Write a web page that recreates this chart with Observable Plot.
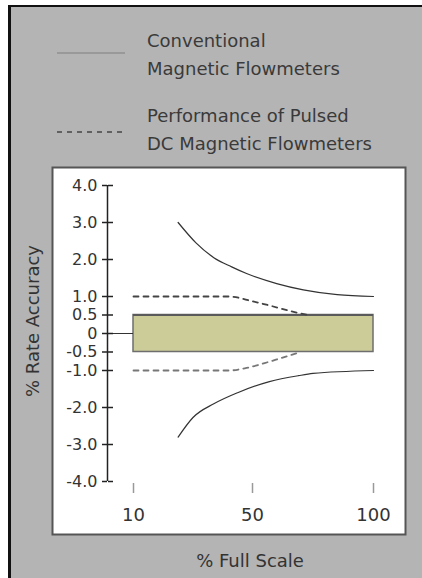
<!DOCTYPE html>
<html>
<head>
<meta charset="utf-8">
<script src="https://cdn.jsdelivr.net/npm/d3@7"></script>
<script src="https://cdn.jsdelivr.net/npm/@observablehq/plot@0.6"></script>
<style>
  html, body { margin: 0; padding: 0; background: #fff; }
  #wrap { position: relative; width: 422px; height: 578px; overflow: hidden; font-family: "DejaVu Sans", sans-serif; }
  #panel { position: absolute; left: 8px; top: 5px; width: 414px; height: 573px; background: #b4b4b4; border-top: 2px solid #111; border-left: 3px solid #111; box-sizing: border-box; }
  #chart { position: absolute; left: 0; top: 0; }
  .leg { position: absolute; left: 147px; font-size: 18px; line-height: 28px; color: #3a3a3a; white-space: nowrap; }
  .sw { position: absolute; left: 57px; }
</style>
</head>
<body>
<div id="wrap">
  <div id="panel"></div>
  <div id="chart"></div>
  <svg class="sw" style="top:48px" width="68" height="10"><line x1="0" x2="68" y1="5" y2="5" stroke="#999" stroke-width="2"/></svg>
  <div class="leg" style="top:27px">Conventional<br>Magnetic Flowmeters</div>
  <svg class="sw" style="top:127px" width="68" height="10"><line x1="0" x2="68" y1="5" y2="5" stroke="#444" stroke-width="1.5" stroke-dasharray="5,5"/></svg>
  <div class="leg" style="top:102px">Performance of Pulsed<br>DC Magnetic Flowmeters</div>
</div>
<script>
// ---- data ----
const xTicks = [10, 50, 100];
const xTickLabels = ["10", "50", "100"];
const yTicks = [4, 3, 2, 1, 0.5, 0, -0.5, -1, -2, -3, -4];
const yTickLabels = ["4.0", "3.0", "2.0", "1.0", "0.5", "0", "-0.5", "-1.0", "-2.0", "-3.0", "-4.0"];

// conventional magnetic flowmeters (solid curves)
const convUpperPct = [25, 31, 37, 43, 48, 60, 71, 85, 100];
const convUpperVal = [3.0, 2.45, 2.05, 1.8, 1.62, 1.35, 1.18, 1.05, 1.0];
const convLowerPct = [25, 30, 37, 45, 57, 69, 75, 100];
const convLowerVal = [-2.8, -2.27, -1.9, -1.6, -1.3, -1.14, -1.08, -1.0];

// pulsed DC magnetic flowmeters (dashed)
const pulsedUpperPct = [10, 42, 50, 58, 66, 73];
const pulsedUpperVal = [1.0, 1.0, 0.87, 0.74, 0.6, 0.5];
const pulsedLowerPct = [10, 42, 48, 55, 62, 70];
const pulsedLowerVal = [-1.0, -1.0, -0.93, -0.8, -0.66, -0.5];

// accuracy band
const bandX = [10, 100];
const bandY = [-0.5, 0.5];
const axisPos = 0; // % value where the y axis sits

// the printed % Full Scale axis is not linear: 10, 50 and 100 are nearly evenly spaced
const xBreaks = [0, 10, 50, 100];
const xBreakPos = [0, 26, 145, 266];
const xPos = d3.scaleLinear().domain(xBreaks).range(xBreakPos);

const toPts = (xs, ys) => xs.map((x, i) => ({x: xPos(x), y: ys[i]}));
const yLab = new Map(yTicks.map((v, i) => [v, yTickLabels[i]]));
const xTickPos = xTicks.map(v => xPos(v));

const chart = Plot.plot({
  width: 422,
  height: 578,
  marginLeft: 52,
  marginRight: 17,
  marginTop: 167,
  marginBottom: 44,
  style: {background: "transparent", fontFamily: "DejaVu Sans, sans-serif", overflow: "visible"},
  x: {domain: [xBreakPos[0], xBreakPos[3]], range: [107, 373], axis: null},
  y: {domain: [-4, 4], range: [481, 185], axis: null},
  marks: [
    Plot.frame({fill: "white", stroke: "#555", strokeWidth: 2}),
    Plot.rect([{x1: xPos(bandX[0]), x2: xPos(bandX[1]), y1: bandY[0], y2: bandY[1]}], {x1: "x1", x2: "x2", y1: "y1", y2: "y2", fill: "#cccc99", stroke: "#6e6e6e", strokeWidth: 1.5}),
    Plot.ruleY([bandY[1]], {x1: xPos(bandX[0]), x2: xPos(bandX[1]), stroke: "#5a5a5a", strokeWidth: 2}),
    Plot.ruleY([0], {x1: xPos(axisPos), x2: xPos(bandX[0]), stroke: "#333", strokeWidth: 1}),
    Plot.line(toPts(pulsedUpperPct, pulsedUpperVal), {x: "x", y: "y", stroke: "#444", strokeWidth: 1.8, strokeDasharray: "5,5", curve: "monotone-x"}),
    Plot.line(toPts(pulsedLowerPct, pulsedLowerVal), {x: "x", y: "y", stroke: "#777", strokeWidth: 1.8, strokeDasharray: "5,5", curve: "monotone-x"}),
    Plot.line(toPts(convUpperPct, convUpperVal), {x: "x", y: "y", stroke: "#333", strokeWidth: 1.2, curve: "monotone-x"}),
    Plot.line(toPts(convLowerPct, convLowerVal), {x: "x", y: "y", stroke: "#333", strokeWidth: 1.2, curve: "monotone-x"}),
    Plot.ruleX([xPos(axisPos)], {y1: -4, y2: 4, stroke: "#222", strokeWidth: 1.5}),
    Plot.axisY({ticks: yTicks, anchor: "left", dx: 55, tickSize: 5, tickPadding: 5, tickFormat: d => yLab.get(d), fontSize: 16, color: "#333", stroke: "#222", strokeWidth: 1.5}),
    Plot.axisY({ticks: yTicks, anchor: "right", dx: -298, tickSize: 5, tickFormat: () => "", stroke: "#222", strokeWidth: 1.5}),
    Plot.axisX({ticks: xTickPos, anchor: "bottom", dy: -51, tickSize: 10, tickPadding: 15, tickFormat: d => xTickLabels[xTickPos.indexOf(d)], fontSize: 18, color: "#333", stroke: "#999", strokeWidth: 1.5}),
    Plot.text(["% Full Scale"], {frameAnchor: "bottom", textAnchor: "middle", dx: 21, dy: 32, fontSize: 18, fill: "#333"}),
    Plot.text(["% Rate Accuracy"], {frameAnchor: "left", textAnchor: "middle", lineAnchor: "middle", rotate: -90, dx: -19, dy: -30, fontSize: 18, fill: "#333"})
  ]
});
document.getElementById("chart").appendChild(chart);
</script>
</body>
</html>
